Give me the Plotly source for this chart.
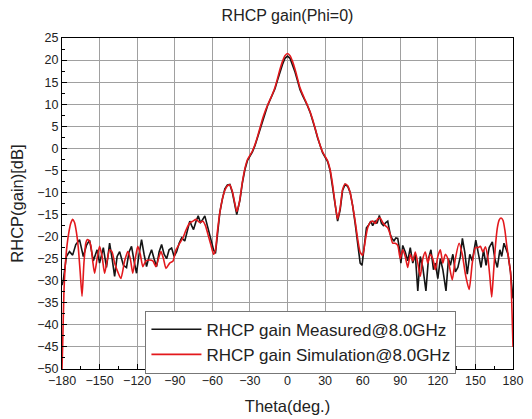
import plotly.graph_objects as go

# Measured RHCP gain (black)
theta_meas = [
    -180, -179, -176.5, -174, -171.5, -169, -166, -163, -160.5, -158, -155, -152, -150, -147,
    -144.5, -142, -140, -138, -136, -134, -131, -128.5, -126.5, -124.5, -122.5, -120.5, -118.5,
    -116.5, -114.5, -112.5, -110.5, -108.5, -106.5, -104.5, -102.5, -100.5, -98.5, -96.5, -94.5,
    -92.5, -90.5, -88.5, -86.5, -84.5, -82, -80, -78, -76.5, -75, -73, -71.3, -69.5, -68.5, -66,
    -64.5, -63, -61, -59, -57.5, -56, -54, -52, -50, -48, -46, -44, -42, -40.5, -39, -38, -36,
    -34, -32, -30, -28, -26, -24, -22, -20, -18, -16, -14, -12, -10, -8, -6, -4, -2, 0,
    2, 4, 6, 8, 10, 12, 14, 16, 18, 20, 22, 24, 26, 28, 30, 32, 34, 36, 38, 40, 42, 44, 46, 48,
    50, 52, 54, 56, 58, 59.5, 61, 63, 64.5, 66.5, 68, 70, 71.5, 73.3, 75, 76.5, 78.5, 80, 82,
    83.5, 85, 86.5, 88, 89.5, 90.5, 92, 94, 96, 98, 100, 102, 104, 106, 108, 110.5, 112.5,
    114.5, 116.5, 118, 120, 122, 124, 126.5, 128.5, 130, 132, 134, 136, 138, 139.6, 141.5,
    143.5, 145.5, 147.5, 150.3, 152.5, 154.5, 156.5, 158.5, 161, 163.5, 165.5, 167.5, 169.5,
    171, 172.8, 174.5, 176, 178, 180,
]
gain_meas = [
    -31, -30, -24.5, -23.4, -24.2, -21.8, -20.7, -24.5, -22, -20.8, -25.5, -23, -26, -22.5,
    -27, -21.5, -25, -29, -24.5, -23.4, -26.5, -27, -23.5, -22.2, -25.5, -28.3, -24,
    -20.7, -24, -26.8, -24.5, -23, -25, -26.8, -23.5, -21.8, -24, -25, -23,
    -22.6, -24.5, -23.4, -21.5, -20.3, -21, -18.5, -16.5, -17.5, -18.4, -16.5, -15.3, -16.8, -16.5, -15.3,
    -17, -18.4, -20.5, -23, -23.8, -19.5, -14.5, -11.5, -9.2, -8.3, -8.2, -10, -13, -15, -13, -11.8, -7.8,
    -4.8, -2.8, -1.8, -0.8, 0.6, 2.4, 4.5, 6.5, 8.2, 9.6, 10.9, 12.1, 13.5, 15.4, 17.3, 19.0, 20.4, 20.9,
    20.4, 19.0, 17.3, 15.3, 13.3, 12.0, 10.9, 9.6, 8.2, 6.5, 4.5, 2.4, 0.5, -1.0, -2.0, -3.0, -5.0, -8.5,
    -13, -16.5, -14, -9.5, -8.2, -8.6,
    -10, -13, -17, -21.5, -26, -26.5, -23, -18, -17.5, -16.5, -17.5, -16.5, -17, -15.2, -17, -17.5, -16.8, -16.5, -19.5,
    -20.5, -21, -20.3, -20.4, -23, -26, -22, -23.5, -25.5, -22.5, -26, -24, -32.3, -24.5, -27, -32.3, -25,
    -23, -27.5, -26, -29.5, -25, -27.5, -32.3, -25, -26.5, -24, -28, -27, -24.5, -20.4, -23.5,
    -28.5, -24, -25.5, -20.8, -24.5, -27, -23, -26.5, -22.5, -21.2, -25, -27, -23,
    -24.5, -21.5, -23, -24, -28, -34,
]

# Simulated RHCP gain (red)
theta_sim = [
    -180, -179.5, -178.5, -177.5, -176, -174.5, -173, -171.5, -170, -168.5, -167, -165.5, -164,
    -162.5, -161, -160, -158.5, -157, -155.5, -154, -152, -150, -148, -146, -144, -142, -140,
    -138, -135.5, -133, -130, -127.5, -125.5, -123.5, -121.5, -119.5, -117.5, -115.5, -113,
    -110, -107.5, -105, -103, -101, -99, -97, -94, -91.5, -89, -86, -83.5, -81, -78, -75.5,
    -73, -70, -67.5, -65.5, -63.5, -61, -59, -57.5, -56, -54, -52, -50, -48, -46, -44, -42,
    -40.5, -39, -38, -36, -34, -32, -30, -28, -26, -24, -22, -20, -18, -16, -14, -12, -10,
    -8, -6, -4, -2, 0, 2, 4, 6, 8, 10, 12, 14, 16, 18, 20, 22, 24, 26, 28, 30, 32, 34, 36,
    38, 40, 42, 44, 46, 48, 50, 52, 54, 56, 58, 60, 62, 64, 66, 68, 70, 72, 74, 76, 78, 80,
    82, 84, 86, 88, 90, 92, 94, 96, 98, 100, 102, 104, 106, 108, 110, 112, 114, 116, 118,
    120, 122, 124, 126, 128, 131.5, 134, 137, 139.5, 142, 145, 147.5, 150, 152, 154, 156,
    158, 160, 161.5, 163, 164.5, 166, 167.5, 169, 170.5, 172, 173.5, 175, 176.5, 178, 179, 180,
]
gain_sim = [
    -50, -45, -33, -27, -22, -19, -17, -16.1, -16.8, -19, -22.5, -28, -33.5,
    -26, -21.5, -20.7, -20.9, -22, -25.5, -28.3, -25, -22.2, -24.5, -28.3, -25.5, -23, -23.5,
    -26, -28, -29.5, -25.5, -23.4, -25, -28.3, -25, -22.2, -24, -26.8, -25.5,
    -25.3, -25.5, -26.8, -25, -23.4, -25, -27.2, -26, -25.6, -23, -21.5, -20.3, -18.5, -16.9, -16.5,
    -16.1, -16.8, -16.5, -17.5, -19.5, -22, -24, -23, -19, -14.5, -11.5, -9.5, -8.5, -8.3, -9.8, -12.5,
    -14.3, -13, -11.5, -7.6, -4.6, -2.6, -1.6, -0.6, 0.8, 2.6, 4.6, 6.6, 8.3, 9.7, 11.0, 12.3, 13.8,
    15.8, 17.9, 19.7, 21.0, 21.5, 21.0, 19.7, 17.9, 15.8, 13.7, 12.3, 11.0, 9.7, 8.3, 6.6, 4.6, 2.6, 0.7, -0.8, -1.8, -2.8, -4.8, -8.2,
    -12.5, -16, -13.5, -9.3, -8.1, -8.5, -10, -13, -16.5, -20.5, -23.5, -24.2, -21, -18, -16.8, -16.5, -17, -16, -15.8, -16.8, -17.5, -18,
    -19.5, -21.5, -21.5, -22, -25, -23, -24.5, -27, -24, -25.5, -23.5, -26, -29, -25, -23.5, -26, -24, -25, -27.5,
    -24.5, -23, -26, -24, -25, -29.8, -25, -21.5, -24, -28.5, -32, -26, -22.5, -22.5, -22.2, -23.5,
    -22.3, -25, -29, -33.7, -28, -22, -18, -16.2, -15.8, -16.3, -18.5, -22, -25, -28, -35, -45,
]

x_ticks = [-180, -150, -120, -90, -60, -30, 0, 30, 60, 90, 120, 150, 180]
y_ticks = [25, 20, 15, 10, 5, 0, -5, -10, -15, -20, -25, -30, -35, -40, -45, -50]

fig = go.Figure()

fig.add_trace(go.Scatter(
    x=theta_meas, y=gain_meas, mode='lines',
    name='RHCP gain Measured@8.0GHz',
    line=dict(color='#151515', width=1.6)
))
fig.add_trace(go.Scatter(
    x=theta_sim, y=gain_sim, mode='lines',
    name='RHCP gain Simulation@8.0GHz',
    line=dict(color='#e3181c', width=1.6, shape='spline', smoothing=0.6)
))

axis_style = dict(
    showline=True, linecolor='black', linewidth=1, mirror=True,
    showgrid=True, gridcolor='#a0a0a0', gridwidth=1,
    ticks='inside', ticklen=5, tickcolor='black',
    zeroline=False, automargin=False,
    tickfont=dict(size=12.5, color='#222'),
)

fig.update_xaxes(
    range=[-180, 180], tickvals=x_ticks,
    minor=dict(ticks='inside', ticklen=3, dtick=15, tick0=-180, tickcolor='black', showgrid=False),
    title=dict(text='Theta(deg.)', font=dict(size=16.5, color='#222'), standoff=13),
    **axis_style
)
fig.update_yaxes(
    range=[-50, 25], tickvals=y_ticks,
    minor=dict(ticks='inside', ticklen=3, dtick=2.5, tick0=0, tickcolor='black', showgrid=False),
    title=dict(text='RHCP(gain)[dB]', font=dict(size=16.5, color='#222'), standoff=10),
    **axis_style
)

# page body has an 8px margin, so the figure is sized 8px smaller each way
fig.update_layout(
    width=524, height=411,
    margin=dict(l=54, r=19, t=30, b=50),
    paper_bgcolor='white', plot_bgcolor='white',
    font=dict(family='Liberation Sans, Arial, sans-serif', color='#222'),
    title=dict(text='RHCP gain(Phi=0)', xref='paper', x=0.5, xanchor='center',
               yref='container', y=0.983, yanchor='middle',
               font=dict(size=16, color='#222')),
    legend=dict(
        x=0.185, xanchor='left', y=0.176, yanchor='top',
        bgcolor='white', bordercolor='#777', borderwidth=1,
        font=dict(size=17, color='#222'), tracegroupgap=0,
        entrywidth=285, itemwidth=50,
    ),
    showlegend=True,
)

fig.write_html("out.html")
